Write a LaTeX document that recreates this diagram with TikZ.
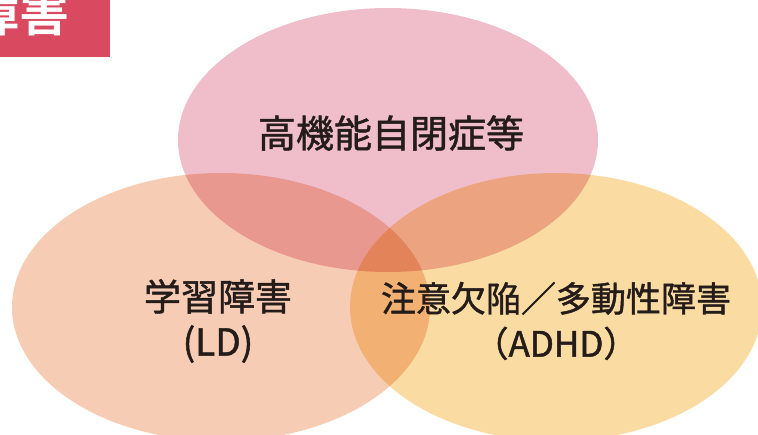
\documentclass[tikz,border=0pt]{standalone}
\usepackage{fontspec}
\newfontfamily\jp[FakeBold=1.3]{Noto Sans CJK JP}
\newfontfamily\jpb{Noto Sans CJK JP Bold}
\definecolor{pinkc}{RGB}{240,190,202}
\definecolor{peachc}{RGB}{247,204,180}
\definecolor{yellowc}{RGB}{250,220,162}
\definecolor{redbox}{RGB}{217,73,95}
\definecolor{txt}{RGB}{35,28,26}
\tikzset{
  blob/.style={blend mode=multiply},
  lbl/.style={font=\jp, text=txt, align=center, inner sep=0pt}
}
\begin{document}
\begin{tikzpicture}[x=1pt,y=-1pt]
\useasboundingbox (0,0) rectangle (758,434);
\clip (0,0) rectangle (758,434);
\fill[white] (0,0) rectangle (758,434);
\begin{scope}[transparency group]
\fill[pinkc, blob] (388,140) ellipse [x radius=210, y radius=132];
\fill[peachc, blob] (221,307) ellipse [x radius=209, y radius=134];
\fill[yellowc, blob] (556,307) ellipse [x radius=206, y radius=134];
\end{scope}
\node[fill=redbox, minimum width=110, minimum height=57, anchor=north west, inner sep=0pt] (hdr) at (0,0) {};
\node[font=\jpb\fontsize{50}{50}\selectfont, text=white, anchor=east, inner sep=0pt] (hdrt) at (70,12) {障害};
\node[lbl, font=\jp\fontsize{38}{45}\selectfont] (asd) at (391,133) {高機能自閉症等};
\node[lbl, font=\jp\fontsize{37}{45}\selectfont] (ld) at (218,321) {学習障害\\(LD)};
\node[lbl, font=\jp\fontsize{35}{45}\selectfont] (adhd) at (556,321) {注意欠陥／多動性障害\\（ADHD）};
\end{tikzpicture}
\end{document}
